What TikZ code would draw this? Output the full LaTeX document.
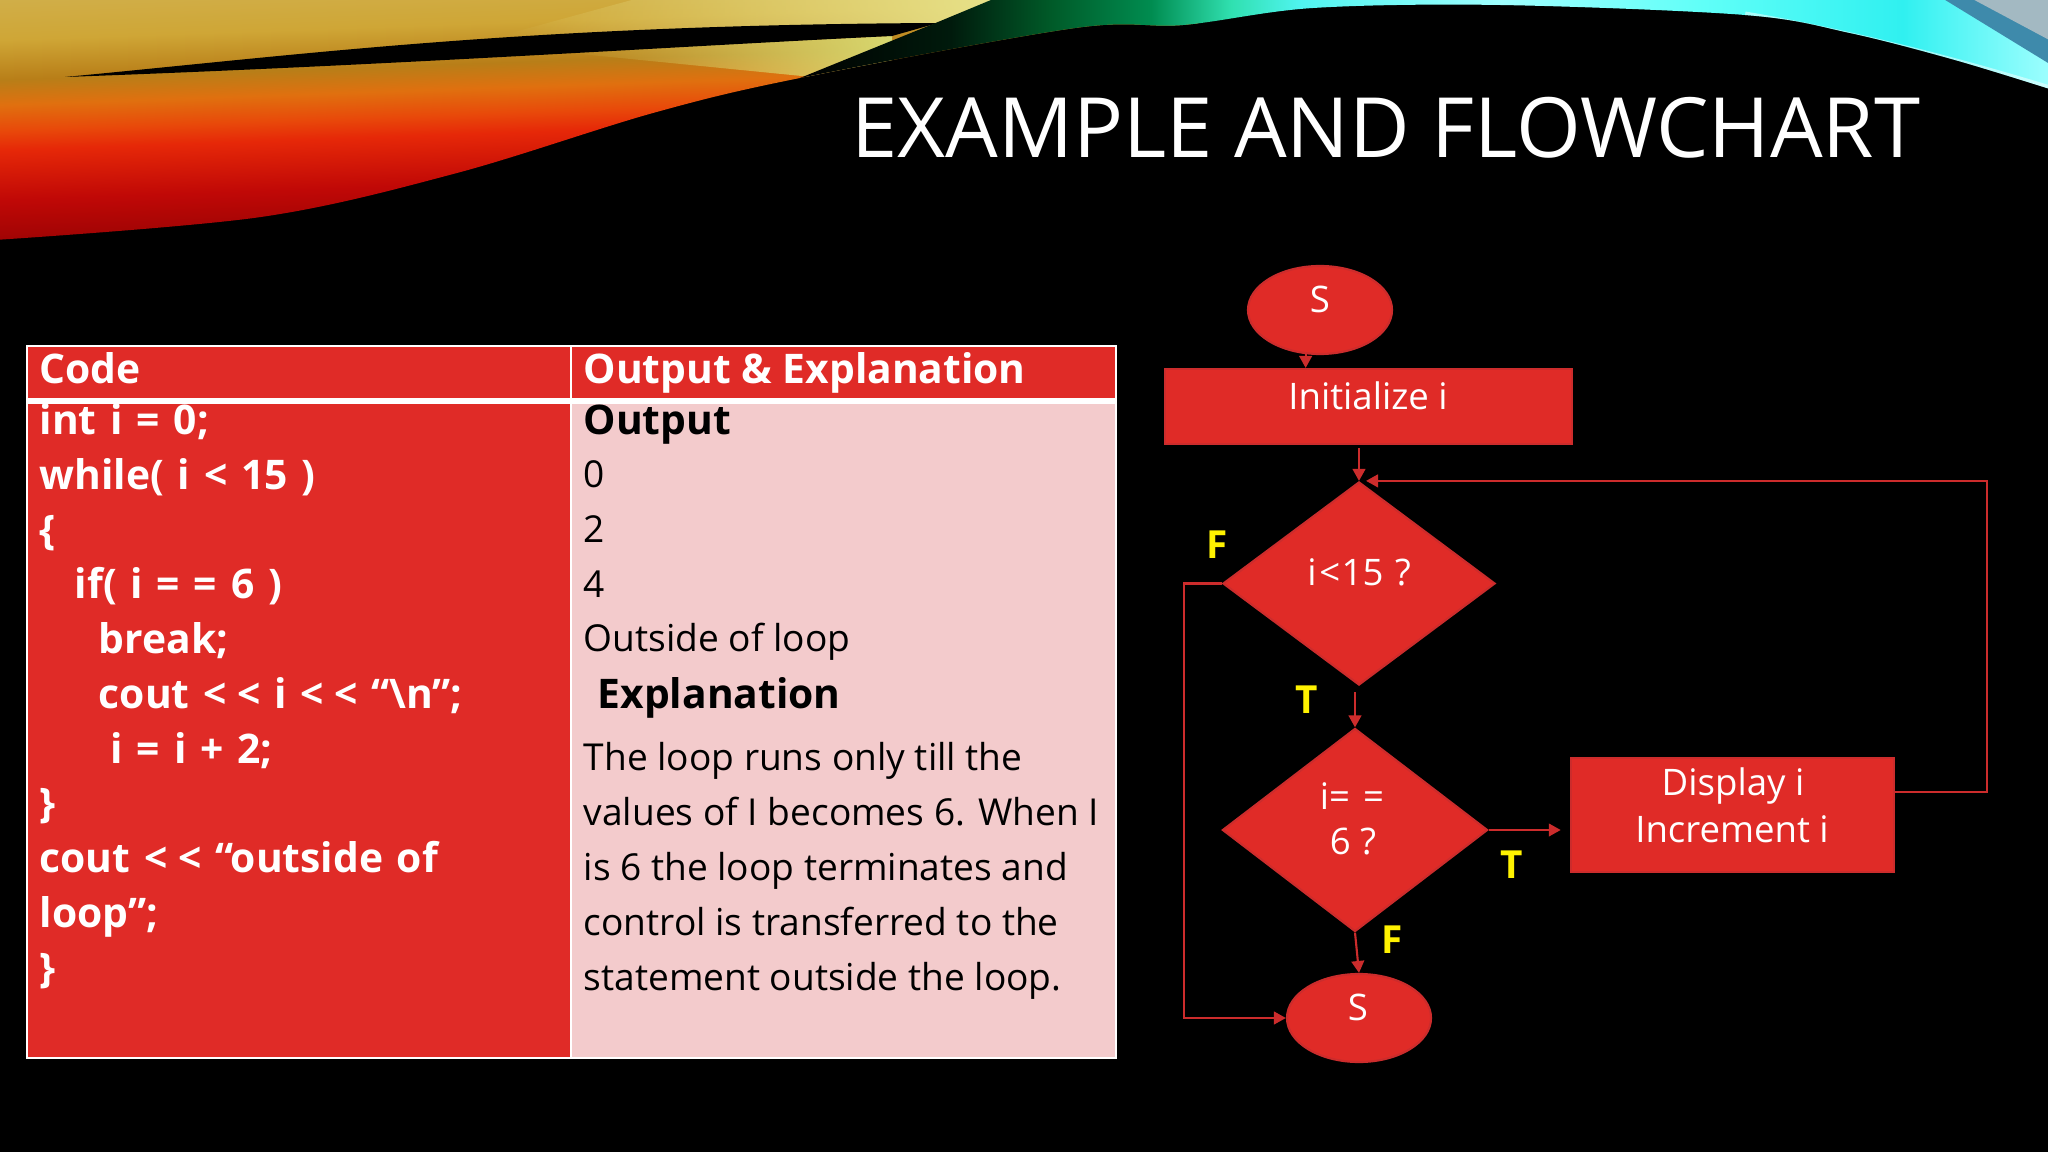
\documentclass[tikz,border=0pt]{standalone}
\usepackage{fontspec}
\setmainfont{Open Sans}
\newfontfamily\codefont[WordSpace=1.3]{Open Sans}
\usetikzlibrary{shapes.geometric,arrows.meta,fadings}
\definecolor{slidered}{HTML}{E02B27}
\definecolor{edgered}{HTML}{CC2C2C}
\definecolor{pinkcell}{HTML}{F3CBCC}
\definecolor{wrA}{HTML}{7A0202}
\definecolor{wrB}{HTML}{A00404}
\definecolor{wrC}{HTML}{C00806}
\definecolor{wrD}{HTML}{E62808}
\definecolor{wrK}{HTML}{E84A0A}
\definecolor{wrE}{HTML}{E0700F}
\definecolor{wrF}{HTML}{B87E18}
\definecolor{wrG}{HTML}{CFA636}
\definecolor{wrH}{HTML}{D0AE48}
\definecolor{wrI}{HTML}{D8BC60}
\definecolor{paleA}{HTML}{E8E48C}
\definecolor{paleB}{HTML}{D8D870}
\pgfdeclareverticalshading{warmband}{100bp}{
    color(0bp)=(wrA);
    color(25bp)=(wrA);
    color(32.5bp)=(wrB);
    color(37.5bp)=(wrC);
    color(43.75bp)=(wrD);
    color(46.25bp)=(wrK);
    color(49.4bp)=(wrE);
    color(52.5bp)=(wrF);
    color(57.5bp)=(wrG);
    color(62.5bp)=(wrH);
    color(75bp)=(wrI);
    color(100bp)=(wrI)}
\definecolor{clA}{HTML}{000000}
\definecolor{clB}{HTML}{001A0C}
\definecolor{clC}{HTML}{005A28}
\definecolor{clD}{HTML}{008C50}
\definecolor{clE}{HTML}{30E0B0}
\definecolor{clF}{HTML}{50F4F0}
\definecolor{clG}{HTML}{A0FFFF}
\definecolor{clH}{HTML}{60FFF8}
\definecolor{clI}{HTML}{30F0F0}
\definecolor{clJ}{HTML}{A0FFFF}
\pgfdeclarehorizontalshading{coolband}{100bp}{
    color(0bp)=(clA);
    color(25bp)=(clA);
    color(31bp)=(clB);
    color(35bp)=(clC);
    color(39bp)=(clD);
    color(42.2bp)=(clE);
    color(45bp)=(clF);
    color(53bp)=(clG);
    color(61bp)=(clH);
    color(69bp)=(clI);
    color(75bp)=(clJ);
    color(100bp)=(clJ)}
\tikzset{
    cell/.style={fill=slidered,draw=white,line width=0.5pt},
    celltext/.style={anchor=base west,inner sep=0pt,align=left,font=\fontsize{10.55pt}{15.62pt}\selectfont},
    codetext/.style={celltext,text=white,font=\codefont\fontsize{11.6pt}{15.56pt}\selectfont\bfseries},
    boldtext/.style={celltext,text=black,font=\fontsize{11.6pt}{15.62pt}\selectfont\bfseries},
    process/.style={rectangle,fill=slidered,draw=edgered,line width=0.6pt,inner sep=0pt},
    terminal/.style={ellipse,fill=slidered,draw=edgered,line width=0.6pt,inner sep=0pt,minimum width=1.44cm,minimum height=0.88cm},
    decision/.style={diamond,fill=slidered,draw=edgered,line width=0.6pt,inner sep=0pt},
    shapetext/.style={anchor=base,inner sep=0pt,text=white,font=\fontsize{10.4pt}{13pt}\selectfont},
    flow/.style={draw=edgered,line width=0.6pt,-{Triangle[length=3.4pt,width=3.6pt]}},
    flag/.style={anchor=center,inner sep=0pt,text=yellow,font=\fontsize{11pt}{13pt}\selectfont\bfseries}
}
\begin{document}
    \begin{tikzpicture}[x=0.01cm,y=-0.01cm]
        \useasboundingbox (0,0) rectangle (2048,1152);
        \fill[black] (0,0) rectangle (2048,1152);
        \begin{scope}
            \clip (2048,-5) -- (-5,-5) -- plot[smooth,tension=0.55] coordinates {(-5,240) (261,217) (457,173) (653,113) (800,78) (1075,28) (1183,25) (1313,8) (1500,5) (1745,15) (1850,33) (1955,60) (2053,90)} -- cycle;
            \shade[shading=warmband,transform canvas={rotate around={2:(0,100)}}] (-100,-100) rectangle (1200,300);
            \fill[paleA,path fading=west] (500,36) -- (938,23) -- (1010,-5) -- (650,-5) -- cycle;
            \fill[paleB,path fading=west] (560,52) -- (892,36) -- (892,85) -- cycle;
            \fill[black] (65,77) .. controls (300,55) and (520,25) .. (938,23) -- (892,36) .. controls (700,45) and (400,65) .. (65,77) -- cycle;
            \shade[shading=coolband] (800,78) -- (938,22) -- (1003,-5) -- (2053,-5) -- (2053,120) -- (800,120) -- cycle;
            \fill[cyan!65!black] (1937,-5) -- (2053,66) -- (2053,-5) -- cycle;
            \fill[cyan!25!gray!70!white] (1965,-5) -- (2053,42) -- (2053,-5) -- cycle;
            \draw[white,line width=2pt,opacity=0.5] (1745,15) .. controls (1850,33) and (1955,60) .. (2053,90);
        \end{scope}
        \node[anchor=base east,inner sep=0pt,text=white,font=\fontsize{23.65pt}{28pt}\selectfont] (title) at (1921,158) {EXAMPLE AND FLOWCHART};

        \fill[cell] (27,346) rectangle (571,400);
        \fill[cell] (571,346) rectangle (1116,400);
        \draw[cell] (27,346) rectangle (571,400);
        \draw[cell] (571,346) rectangle (1116,400);
        \fill[slidered] (27,400) rectangle (571,1058);
        \fill[pinkcell] (571,400) rectangle (1116,1058);
        \draw[white,line width=0.5pt] (27,400) -- (27,1058) -- (1116,1058) -- (1116,400);
        \draw[white,line width=0.5pt] (571,400) -- (571,1058);
        \draw[white,line width=1.7pt] (27,401) -- (1116,401);
        \node[codetext] (codehead) at (39,384) {Code};
        \node[boldtext,text=white] (outhead) at (583,384) {Output \& Explanation};
        \node[codetext] (code) at (39,982) {int i = 0;\\
            while( i < 15 )\\
            \{\\
            \hspace*{10pt}if( i = = 6 )\\
            \hspace*{16.8pt}break;\\
            \hspace*{16.8pt}cout <\kern3pt< i <\kern3pt< “\textbackslash n”;\\
            \hspace*{20.2pt}i = i + 2;\\
            \}\\
            cout <\kern3pt< “outside of\\
            loop”;\\
            \}};
        \node[boldtext] (outlabel) at (583,435) {Output};
        \node[celltext,text=black] (outvalues) at (583,652) {0\\ 2\\ 4\\ Outside of loop};
        \node[boldtext] (explabel) at (597,708) {Explanation};
        \node[celltext,text=black] (explain) at (583,990) {The loop runs only till the\\
            values of I becomes 6. When I\\
            is 6 the loop terminates and\\
            control is transferred to the\\
            statement outside the loop.};

        \node[terminal] (start) at (1320,310) {};
        \node[process,minimum width=4.07cm,minimum height=0.75cm] (init) at (1368.5,406.5) {};
        \node[decision,minimum width=2.72cm,minimum height=2.03cm] (lessfifteen) at (1359,583.5) {};
        \node[decision,minimum width=2.65cm,minimum height=2.03cm] (equalsix) at (1355,830) {};
        \node[process,minimum width=3.23cm,minimum height=1.14cm] (show) at (1732.5,815) {};
        \node[terminal] (stop) at (1359,1018) {};
        \coordinate (leftrail) at (1184,800);
        \coordinate (rightrail) at (1987,640);
        \coordinate (truegap) at (1355,692);

        \draw[flow] (start.-108) -- (start.-108 |- init.north);
        \draw[flow] (lessfifteen.north |- 0,448) -- (lessfifteen.north);
        \draw[flow] (truegap) -- (equalsix.north);
        \draw[flow] (equalsix.south) -- (stop.north);
        \draw[flow,shorten >=2.6pt] (equalsix.east) -- (equalsix.east -| show.west);
        \draw[flow] (lessfifteen.west) -- (lessfifteen.west -| leftrail) -- (stop.west -| leftrail) -- (stop.west);
        \draw[flow,shorten >=2pt] (show.8) -- (show.8 -| rightrail) -- (rightrail |- lessfifteen.north) -- (lessfifteen.north);

        \node[shapetext] (starttext) at (1320,313) {S};
        \node[shapetext] (inittext) at (1368,410) {Initialize i};
        \node[shapetext] (lesstext) at (1359,586) {i\kern0.8pt<\kern0.4pt15\kern0.6pt\ ?};
        \node[shapetext] (equaltext) at (1352,809) {i=\kern1pt\ =};
        \node[shapetext] (sixtext) at (1353,854) {6 ?};
        \node[shapetext] (displaytext) at (1733,795) {Display i};
        \node[shapetext] (incrtext) at (1732,842) {Increment i};
        \node[shapetext] (stoptext) at (1358,1020) {S};

        \node[flag] (falseone) at (1217,545) {F};
        \node[flag] (trueone) at (1307,700) {T};
        \node[flag] (truetwo) at (1512,865) {T};
        \node[flag] (falsetwo) at (1392,940) {F};
    \end{tikzpicture}
\end{document}
